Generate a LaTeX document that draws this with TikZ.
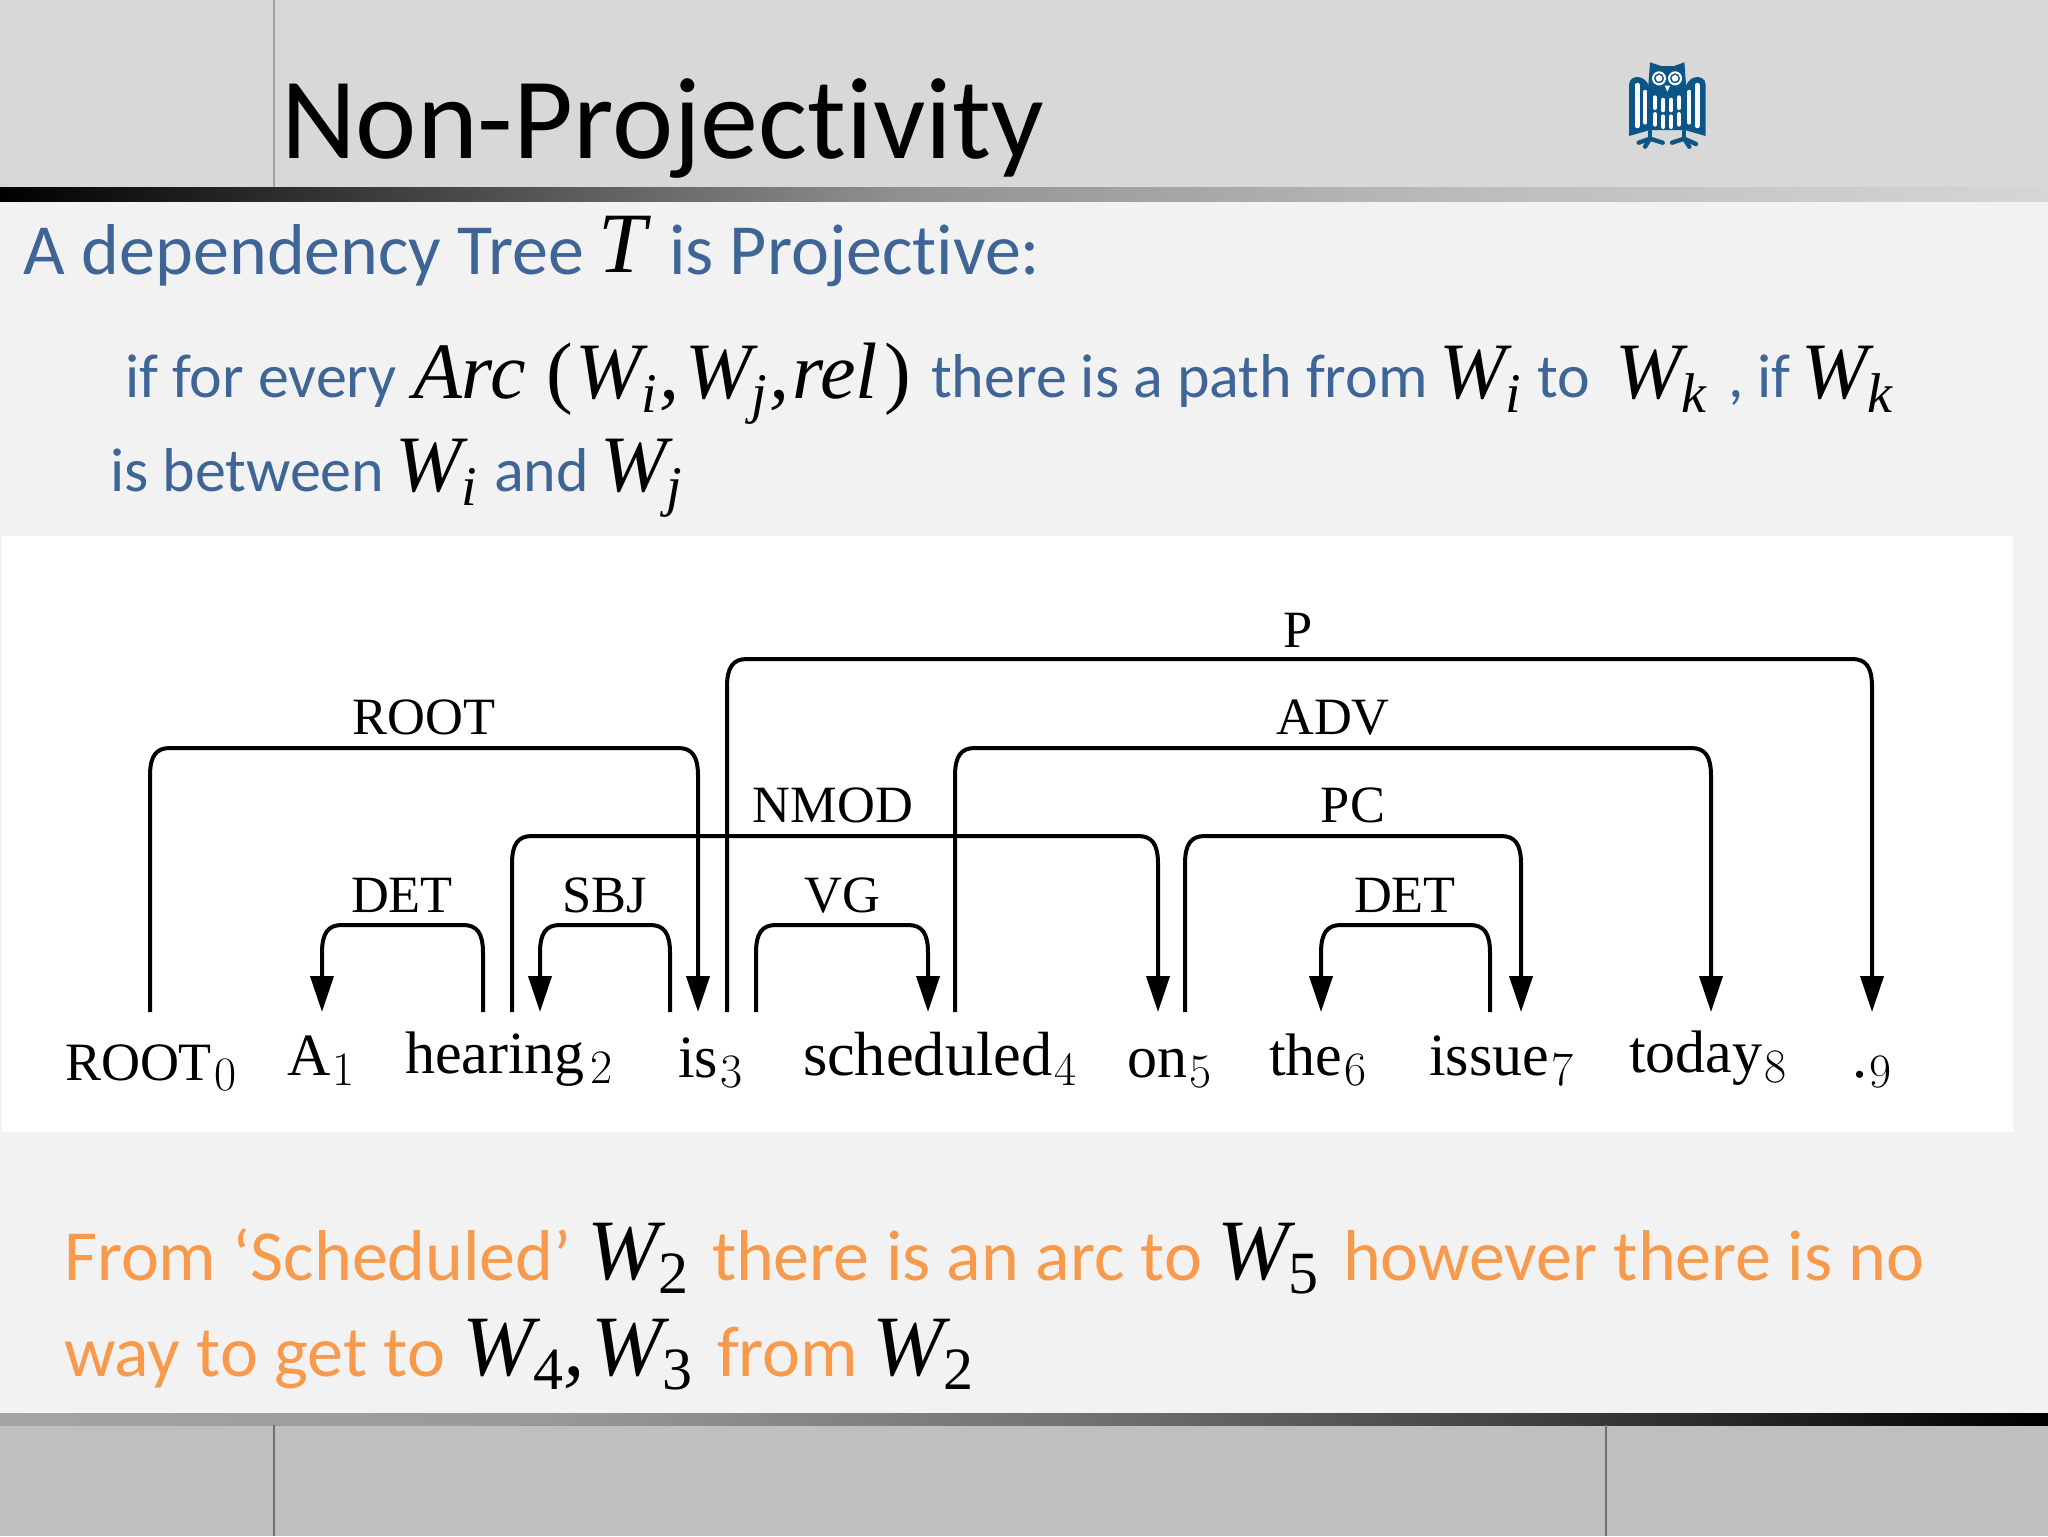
\documentclass[tikz,border=0pt]{standalone}
\usepackage{fontspec}
\setmainfont{Carlito}[Ligatures=CommonOff]
\newfontfamily\serifw{Liberation Serif}
\newfontfamily\lmr{Latin Modern Roman}
\newcommand{\mfont}{\serifw\itshape}
\usetikzlibrary{arrows.meta,calc}
\definecolor{topband}{HTML}{D8D8D8}
\definecolor{botband}{HTML}{C0BEC0}
\definecolor{pagebg}{HTML}{F2F2F3}
\definecolor{slideblue}{HTML}{3E6595}
\definecolor{slideorange}{HTML}{F79A4B}
\definecolor{owlblue}{HTML}{0B5687}
\newcommand{\fs}[1]{\fontsize{#1}{#1}\selectfont}
\tikzset{
  x=0.5pt,y=-0.5pt,
  txt/.style={inner sep=0pt,outer sep=0pt,anchor=base west},
  titletext/.style={txt,text=black,font=\fs{58pt}},
  headtext/.style={txt,text=slideblue,font=\fs{36pt}},
  bodytext/.style={txt,text=slideblue,font=\fs{31pt}},
  notetext/.style={txt,text=slideorange,font=\fs{36pt}},
  mathtext/.style={txt,text=black,font=\fs{40pt}\mfont},
  mathbig/.style={txt,text=black,font=\fs{43pt}\mfont},
  parentext/.style={txt,text=black,font=\fs{40pt}\serifw},
  wordtext/.style={txt,text=black,font=\fs{30pt}\serifw},
  rootword/.style={txt,text=black,font=\fs{27pt}\serifw},
  arclabel/.style={inner sep=0pt,outer sep=0pt,anchor=base,text=black,font=\fs{26.2pt}\serifw},
  deparc/.style={draw=black,line width=2pt},
  depend/.style={deparc,-{Triangle[length=18pt,width=11.5pt]}},
  owlline/.style={owlblue,line width=2.2pt,line cap=round},
  owlfeather/.style={white,line width=2.3pt,line cap=round},
}
\newcommand{\Wsub}[1]{W\raisebox{-7pt}{\fs{28pt}#1}}
\newcommand{\Wup}[1]{W\raisebox{-7pt}{\fs{30pt}\serifw\upshape #1}}
\newcommand{\wsb}[1]{\kern1.2pt\raisebox{-5pt}{\fs{24pt}\lmr #1}}
\newcommand{\archRa}[3]{\path[depend] (#1) -- ++(0,{-(#3-28)}) .. controls +(0,-20) and +(-14,0) .. ++(20,-28)
  -- ($(#2)+(-20,{-#3})$) .. controls +(14,0) and +(0,-20) .. ($(#2)+(0,{-(#3-28)})$) -- (#2);}
\newcommand{\archLa}[3]{\path[depend] (#1) -- ++(0,{-(#3-28)}) .. controls +(0,-20) and +(14,0) .. ++(-20,-28)
  -- ($(#2)+(20,{-#3})$) .. controls +(-14,0) and +(0,-20) .. ($(#2)+(0,{-(#3-28)})$) -- (#2);}
\begin{document}
\begin{tikzpicture}
\useasboundingbox (0,0) rectangle (2048,1536);
% --- slide background
\fill[pagebg] (0,0) rectangle (2048,1536);
\fill[topband] (0,0) rectangle (2048,201);
\fill[botband] (0,1425) rectangle (2048,1536);
\definecolor{tb1}{HTML}{909090}\definecolor{tb2}{HTML}{BBBBBB}\definecolor{tb3}{HTML}{D6D6D6}
\shade[left color=black,right color=tb1] (0,187) rectangle (900,201);
\shade[left color=tb1,right color=tb2] (900,187) rectangle (1450,201);
\shade[left color=tb2,right color=tb3] (1450,187) rectangle (2048,201);
\definecolor{bb1}{HTML}{A5A3A5}\definecolor{bb2}{HTML}{9A989A}\definecolor{bb3}{HTML}{707070}\definecolor{bb4}{HTML}{444444}
\shade[left color=bb1,right color=bb2] (0,1413) rectangle (548,1425);
\shade[left color=bb2,right color=bb3] (548,1413) rectangle (1100,1425);
\shade[left color=bb3,right color=bb4] (1100,1413) rectangle (1500,1425);
\shade[left color=bb4,right color=black] (1500,1413) rectangle (2048,1425);
\draw[black!25!topband,line width=0.6pt] (274,0) -- (274,187);
\draw[black!40!botband,line width=0.7pt] (274,1425) -- (274,1536);
\draw[black!40!botband,line width=0.7pt] (1606,1425) -- (1606,1536);
\fill[white] (2,536) rectangle (2013,1132);
% --- title
\node[titletext] (title) at (281,158) {Non-Projectivity};
% --- owl
\begin{scope}[shift={(1560,30)},x=0.1667pt,y=-0.1667pt]
 \fill[owlblue] (270,97) -- (303,108) -- (342,108) -- (373,97) -- (378,165) -- (378,300) -- (265,300) -- (265,165) -- cycle;
 \fill[owlblue] (207,165) .. controls (207,145) and (225,138) .. (240,142) .. controls (255,146) and (265,160) .. (270,175) -- (270,300) -- (207,318) -- cycle;
 \fill[owlblue] (437,165) .. controls (437,145) and (419,138) .. (404,142) .. controls (389,146) and (379,160) .. (374,175) -- (374,300) -- (437,318) -- cycle;
 \foreach \ex in {297,345}{
   \fill[white] (\ex,145) circle[radius=21];
   \fill[owlblue] (\ex,145) circle[radius=15];
   \fill[white] (\ex,145) circle[radius=10];
 }
 \fill[white] (314,167) -- (330,167) -- (322,185) -- cycle;
 \foreach \fx/\ft/\fb/\fw in {232/165/288/2.2, 256/185/278/1.9, 388/185/278/1.9, 412/165/288/2.2}{
   \draw[white,line width=\fw pt,line cap=round] (\fx,\ft) -- (\fx,\fb);
 }
 \foreach \fx/\ft in {285/203,309/210,333/210,357/203}{
   \draw[owlfeather] (\fx,\ft) -- (\fx,\ft+30);
   \draw[owlfeather] (\fx,\ft+50) -- (\fx,\ft+80);
 }
 \draw[owlline] (236,338) -- (270,326) -- (308,338);
 \draw[owlline] (270,326) -- (255,350);
 \draw[owlline] (270,305) -- (270,326);
 \draw[owlline] (336,338) -- (372,326) -- (408,342);
 \draw[owlline] (372,326) -- (388,350);
 \draw[owlline] (372,305) -- (372,326);
\end{scope}
% --- definition text
\node[headtext] (h1) at (24,274) {A dependency Tree};
\node[mathbig] (h2) at (598,272) {T};
\node[headtext] (h3) at (669,274) {is Projective:};
\node[bodytext] (b1) at (125,397) {if for every};
\node[mathtext] (b2) at (413,398) {Arc};
\node[parentext] (b3) at (546,398) {(};
\node[mathtext] (b3a) at (575,398) {\Wsub{i}\kern1pt,};
\node[mathtext] (b3b) at (685,398) {\Wsub{j}\kern1pt,};
\node[mathtext] (b3c) at (792,398) {rel};
\node[parentext] (b3d) at (884,398) {)};
\node[bodytext] (b4) at (931,397) {there is a path from};
\node[mathtext] (b5) at (1439,398) {\Wsub{i}};
\node[bodytext] (b6) at (1537,397) {to};
\node[mathtext] (b7) at (1615,398) {\Wsub{k}};
\node[bodytext] (b8) at (1728,397) {, if};
\node[mathtext] (b9) at (1801,398) {\Wsub{k}};
\node[bodytext] (c1) at (110,491) {is between};
\node[mathtext] (c2) at (395,491) {\Wsub{i}};
\node[bodytext] (c3) at (494,491) {and};
\node[mathtext] (c4) at (600,491) {\Wsub{j}};
% --- dependency diagram words
\node[rootword] (root) at (65,1080) {ROOT\wsb{0}};
\node[wordtext] (a) at (287,1075) {A\wsb{1}};
\node[wordtext] (hearing) at (405,1073) {hearing\kern1.5pt\wsb{2}};
\node[wordtext] (is) at (678,1077) {is\wsb{3}};
\node[wordtext,font=\fs{31.2pt}\serifw] (scheduled) at (803,1075) {scheduled\wsb{4}};
\node[wordtext] (on) at (1127,1077) {on\wsb{5}};
\node[wordtext] (the) at (1269,1075) {the\wsb{6}};
\node[wordtext] (issue) at (1429,1075) {issue\wsb{7}};
\node[wordtext] (today) at (1629,1072) {today\wsb{8}};
\node[wordtext] (dot) at (1852,1077) {.\wsb{9}};
% arc anchors
\foreach \n/\x in {rootS/150,aT/322,hearL/483,hearR/512,hearT/540,isL/670,isT/698,isR/727,isV/756,schT/928,schR/955,onT/1158,onR/1185,theT/1321,issL/1490,issT/1521,todT/1711,dotT/1872}{
  \coordinate (\n) at (\x,1012);
}
\archRa{rootS}{isT}{264}
\archLa{hearL}{aT}{87}
\archLa{isL}{hearT}{87}
\archRa{isV}{schT}{87}
\archRa{hearR}{onT}{176}
\archRa{isR}{dotT}{353}
\archRa{schR}{todT}{264}
\archRa{onR}{issT}{176}
\archLa{issL}{theT}{87}
% arc labels
\node[arclabel] (lroot) at (424,734) {ROOT};
\node[arclabel] (ldet) at (402,912) {DET};
\node[arclabel] (lsbj) at (605,912) {SBJ};
\node[arclabel] (lnmod) at (833,822) {NMOD};
\node[arclabel] (lvg) at (842,912) {VG};
\node[arclabel] (lp) at (1298,647) {P};
\node[arclabel] (ladv) at (1333,734) {ADV};
\node[arclabel] (lpc) at (1353,822) {PC};
\node[arclabel] (ldet2) at (1405,912) {DET};
% --- note text
\node[notetext] (n1) at (64,1280) {From ‘Scheduled’};
\node[mathbig] (n2) at (587,1279) {\Wup{2}};
\node[notetext] (n3) at (712,1280) {there is an arc to};
\node[mathbig] (n4) at (1217,1279) {\Wup{5}};
\node[notetext] (n5) at (1343,1280) {however there is no};
\node[notetext] (m1) at (64,1376) {way to get to};
\node[mathbig] (m2) at (462,1375) {\Wup{4},};
\node[mathbig] (m3) at (591,1375) {\Wup{3}};
\node[notetext] (m4) at (717,1376) {from};
\node[mathbig] (m5) at (872,1375) {\Wup{2}};
\end{tikzpicture}
\end{document}
